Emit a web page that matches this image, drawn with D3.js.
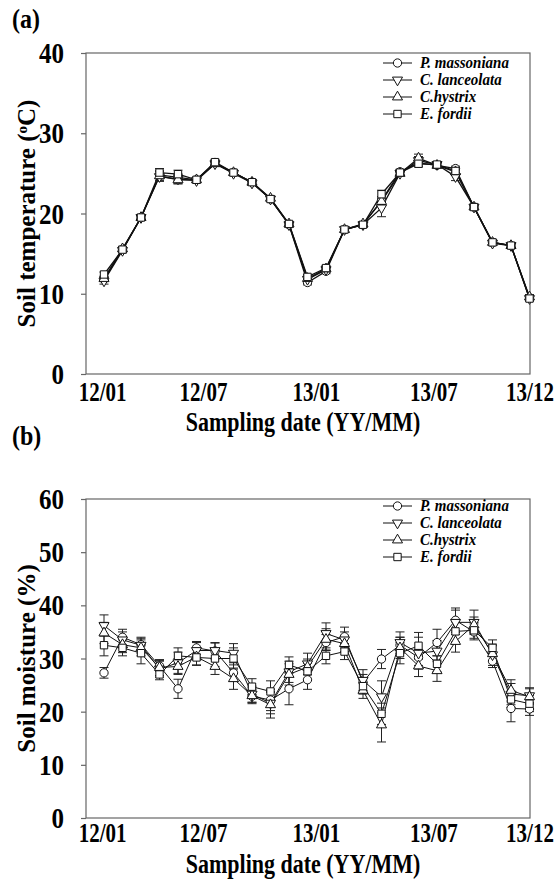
<!DOCTYPE html>
<html>
<head>
<meta charset="utf-8">
<script src="https://cdn.jsdelivr.net/npm/d3@7"></script>
<style>
  body { margin: 0; background: #fff; }
  text { font-family: "Liberation Serif", "Times New Roman", serif; font-weight: bold; }
</style>
</head>
<body>
<div id="chart"></div>
<script>
// Series names (legend order)
var SERIES = ["P. massoniana", "C. lanceolata", "C.hystrix", "E. fordii"];

// x axis tick labels and where they sit on the sampling index
var TICK_LABELS = ["12/01", "12/07", "13/01", "13/07", "13/12"];
var TICK_POS = [-0.1, 5.35, 11.45, 17.8, 23];

// (a) soil temperature, 24 monthly samples
var TEMP_PM = [11.8, 15.5, 19.5, 24.8, 24.5, 24.2, 26.3, 25.1, 23.9, 21.8, 18.6, 11.4, 12.8, 18.0, 18.6, 21.6, 25.2, 26.3, 26.0, 25.6, 20.8, 16.4, 16.0, 9.5];
var TEMP_CL = [11.6, 15.4, 19.5, 24.6, 24.3, 24.1, 26.2, 25.0, 23.8, 21.8, 18.6, 11.8, 13.0, 18.0, 18.6, 20.7, 25.0, 26.6, 26.1, 24.6, 20.8, 16.3, 16.0, 9.4];
var TEMP_CH = [11.9, 15.6, 19.5, 24.7, 24.2, 24.2, 26.2, 25.1, 23.9, 21.9, 18.7, 11.9, 13.1, 18.0, 18.7, 21.5, 25.0, 26.9, 26.0, 25.2, 20.8, 16.4, 16.0, 9.6];
var TEMP_EF = [12.4, 15.5, 19.5, 25.1, 24.9, 24.2, 26.4, 25.1, 23.9, 21.8, 18.7, 12.1, 13.2, 18.0, 18.6, 22.4, 25.1, 26.2, 26.1, 25.3, 20.8, 16.4, 16.0, 9.4];
var TEMP_ERR_PM = [0.3, 0.3, 0.3, 0.5, 0.4, 0.3, 0.3, 0.3, 0.3, 0.3, 0.3, 0.3, 0.3, 0.2, 0.3, 0.5, 0.3, 0.4, 0.3, 0.3, 0.3, 0.3, 0.3, 0.3];
var TEMP_ERR_CL = [0.4, 0.3, 0.3, 0.6, 0.6, 0.3, 0.3, 0.3, 0.3, 0.3, 0.3, 0.4, 0.3, 0.2, 0.3, 1.1, 0.3, 0.5, 0.3, 0.5, 0.3, 0.3, 0.3, 0.3];
var TEMP_ERR_CH = [0.3, 0.3, 0.3, 0.6, 0.5, 0.3, 0.3, 0.3, 0.3, 0.3, 0.3, 0.3, 0.3, 0.2, 0.3, 0.6, 0.3, 0.5, 0.3, 0.4, 0.3, 0.3, 0.3, 0.3];
var TEMP_ERR_EF = [0.3, 0.3, 0.3, 0.5, 0.5, 0.3, 0.3, 0.3, 0.3, 0.3, 0.3, 0.3, 0.3, 0.2, 0.3, 0.5, 0.3, 0.4, 0.3, 0.4, 0.3, 0.3, 0.3, 0.3];

// (b) soil moisture, 24 monthly samples
var MOIST_PM = [27.3, 34.0, 32.6, 28.6, 24.3, 32.0, 31.4, 27.3, 22.9, 22.2, 24.3, 26.0, 33.0, 34.1, 25.5, 29.9, 32.5, 30.2, 33.0, 37.2, 35.0, 29.5, 20.6, 20.5];
var MOIST_CL = [36.2, 33.5, 32.5, 28.0, 29.2, 31.5, 31.5, 31.0, 23.3, 21.6, 27.5, 29.0, 34.7, 33.5, 25.9, 22.8, 33.0, 31.0, 31.4, 36.8, 36.8, 30.7, 23.3, 23.0];
var MOIST_CH = [34.8, 32.6, 32.0, 28.3, 28.5, 30.3, 28.5, 26.2, 23.0, 21.3, 27.0, 28.4, 33.6, 32.8, 24.0, 17.5, 32.0, 28.6, 27.7, 33.2, 36.3, 30.9, 24.0, 22.8];
var MOIST_EF = [32.5, 32.0, 31.0, 27.0, 30.5, 30.2, 30.0, 30.0, 24.7, 23.8, 28.8, 27.6, 30.5, 31.3, 24.8, 19.6, 31.0, 32.4, 29.0, 35.1, 35.3, 32.0, 22.3, 21.5];
var MOIST_ERR_PM = [1.0, 1.5, 1.2, 1.0, 1.8, 1.2, 1.5, 1.5, 1.2, 2.0, 3.0, 1.8, 1.5, 1.8, 1.5, 1.8, 1.5, 1.5, 2.5, 2.3, 1.5, 1.2, 2.5, 1.2];
var MOIST_ERR_CL = [2.0, 1.5, 1.5, 1.5, 2.0, 1.5, 1.5, 1.8, 1.5, 2.0, 2.0, 2.0, 2.0, 1.5, 2.0, 3.0, 2.0, 3.0, 2.0, 2.3, 2.3, 2.0, 2.0, 1.5];
var MOIST_ERR_CH = [2.0, 1.5, 1.5, 1.5, 1.5, 1.5, 1.5, 2.0, 1.5, 2.5, 2.0, 1.5, 2.0, 1.5, 1.5, 3.2, 2.0, 2.0, 2.0, 2.0, 1.5, 1.5, 2.0, 1.5];
var MOIST_ERR_EF = [2.0, 1.5, 2.0, 1.0, 1.5, 1.5, 1.5, 2.0, 1.5, 2.0, 1.5, 1.5, 1.5, 1.5, 1.5, 2.0, 2.0, 2.5, 1.5, 2.0, 1.5, 1.5, 1.5, 1.5];

var TEMP_TICKS = [0, 10, 20, 30, 40];
var MOIST_TICKS = [0, 10, 20, 30, 40, 50, 60];

var WIDTH = 556, HEIGHT = 881;

var svg = d3.select('#chart').append('svg')
    .attr('width', WIDTH)
    .attr('height', HEIGHT);

// shared x scale (sampling index)
var x = d3.scaleLinear().domain([0, 23]).range([104, 529.5]);
var FRAME_L = 86, FRAME_R = 530;

// the original figure is a bit squashed sideways, so text is drawn taller than wide
function tallText(sel, px, py, size, sy) {
    return sel.append('text')
        .attr('transform', 'translate(' + px + ',' + py + ') scale(1,' + sy + ')')
        .style('font-size', size + 'px');
}

// marker shapes per series
var SYMBOLS = [
    {type: d3.symbolCircle, rot: 0, size: 54},
    {type: d3.symbolTriangle, rot: 180, size: 44},
    {type: d3.symbolTriangle, rot: 0, size: 44},
    {type: d3.symbolSquare, rot: 0, size: 54}
];

function drawPanel(opt) {
    var y = d3.scaleLinear().domain([0, opt.max]).range([opt.bottom, opt.top]);
    var g = svg.append('g');

    // panel letter
    tallText(g, 12, opt.letterY, 24, 1.1).text(opt.letter);

    // frame
    g.append('rect')
        .attr('x', FRAME_L).attr('y', opt.top)
        .attr('width', FRAME_R - FRAME_L).attr('height', opt.bottom - opt.top)
        .attr('fill', 'none').attr('stroke', '#666').attr('stroke-width', 1.2);

    // y axis
    var yAxis = d3.axisLeft(y).tickValues(opt.ticks).tickSize(5).tickPadding(17);
    var ya = g.append('g').attr('transform', 'translate(' + FRAME_L + ',0)').call(yAxis);
    ya.select('.domain').remove();
    ya.selectAll('line').attr('stroke', '#666').attr('stroke-width', 1.2);
    ya.selectAll('text')
        .attr('font-family', null).attr('fill', '#000')
        .attr('y', 0).attr('dy', null)
        .attr('transform', 'translate(0,9.5) scale(1,1.15)')
        .style('font-size', '25px');

    // x axis, labels only
    var xAxis = d3.axisBottom(x).tickValues(TICK_POS)
        .tickFormat(function(d, i) { return TICK_LABELS[i]; })
        .tickSize(0);
    var xa = g.append('g').attr('transform', 'translate(0,' + opt.bottom + ')').call(xAxis);
    xa.select('.domain').remove();
    xa.selectAll('text')
        .attr('font-family', null).attr('fill', '#000')
        .attr('y', 0).attr('dy', null)
        .attr('transform', 'translate(0,' + opt.xBase + ') scale(1,1.3)')
        .style('font-size', '21px');

    // axis titles
    tallText(g, 303, opt.titleY, 22, 1.22)
        .attr('text-anchor', 'middle')
        .text('Sampling date (YY/MM)');

    var yl = g.append('text')
        .attr('transform', 'translate(35,' + ((opt.top + opt.bottom) / 2) + ') rotate(-90)')
        .attr('text-anchor', 'middle')
        .style('font-size', '25px');
    opt.yLabel(yl);

    var line = d3.line()
        .x(function(d, i) { return x(i); })
        .y(function(d) { return y(d); });

    // lines first, then error bars, then markers
    opt.data.forEach(function(vals, s) {
        g.append('path').datum(vals)
            .attr('d', line)
            .attr('fill', 'none')
            .attr('stroke', '#111')
            .attr('stroke-width', opt.lineW);
    });

    opt.data.forEach(function(vals, s) {
        var errs = opt.errs[s];
        var eb = g.append('g').attr('stroke', '#222').attr('stroke-width', 1);
        vals.forEach(function(v, i) {
            var cx = x(i), y1 = y(v - errs[i]), y2 = y(v + errs[i]);
            eb.append('line').attr('x1', cx).attr('x2', cx).attr('y1', y1).attr('y2', y2);
            eb.append('line').attr('x1', cx - 4.5).attr('x2', cx + 4.5).attr('y1', y1).attr('y2', y1);
            eb.append('line').attr('x1', cx - 4.5).attr('x2', cx + 4.5).attr('y1', y2).attr('y2', y2);
        });
    });

    opt.data.forEach(function(vals, s) {
        var sym = SYMBOLS[s];
        g.append('g').selectAll('path')
            .data(vals)
            .enter()
            .append('path')
                .attr('d', d3.symbol().type(sym.type).size(sym.size))
                .attr('transform', function(d, i) { return 'translate(' + x(i) + ',' + y(d) + ') rotate(' + sym.rot + ')'; })
                .attr('fill', '#fff')
                .attr('stroke', '#111')
                .attr('stroke-width', 1);
    });

    // legend
    var lg = g.append('g').attr('transform', 'translate(383,' + opt.legendY + ')');
    SERIES.forEach(function(name, s) {
        var row = lg.append('g').attr('transform', 'translate(0,' + (s * opt.legendGap) + ')');
        row.append('line').attr('x1', 0).attr('x2', 29).attr('y1', 0).attr('y2', 0)
            .attr('stroke', '#111').attr('stroke-width', 1);
        row.append('path')
            .attr('d', d3.symbol().type(SYMBOLS[s].type).size(SYMBOLS[s].size))
            .attr('transform', 'translate(14.5,0) rotate(' + SYMBOLS[s].rot + ')')
            .attr('fill', '#fff').attr('stroke', '#111');
        tallText(row, 37, 5, 15, 1.15)
            .style('font-style', 'italic')
            .text(name);
    });
}

// (a) soil temperature
drawPanel({
    letter: '(a)', letterY: 28,
    top: 53, bottom: 374, max: 40, ticks: TEMP_TICKS,
    xBase: 27, titleY: 431, legendY: 63, legendGap: 17, lineW: 1.3,
    data: [TEMP_PM, TEMP_CL, TEMP_CH, TEMP_EF],
    errs: [TEMP_ERR_PM, TEMP_ERR_CL, TEMP_ERR_CH, TEMP_ERR_EF],
    yLabel: function(t) {
        t.append('tspan').text('Soil temperature (');
        t.append('tspan').attr('baseline-shift', 'super').style('font-size', '15px').text('o');
        t.append('tspan').text('C)');
    }
});

// (b) soil moisture
drawPanel({
    letter: '(b)', letterY: 445,
    top: 499, bottom: 818, max: 60, ticks: MOIST_TICKS,
    xBase: 24, titleY: 873, legendY: 506, legendGap: 17, lineW: 1,
    data: [MOIST_PM, MOIST_CL, MOIST_CH, MOIST_EF],
    errs: [MOIST_ERR_PM, MOIST_ERR_CL, MOIST_ERR_CH, MOIST_ERR_EF],
    yLabel: function(t) { t.text('Soil moisture (%)'); }
});
</script>
</body>
</html>
